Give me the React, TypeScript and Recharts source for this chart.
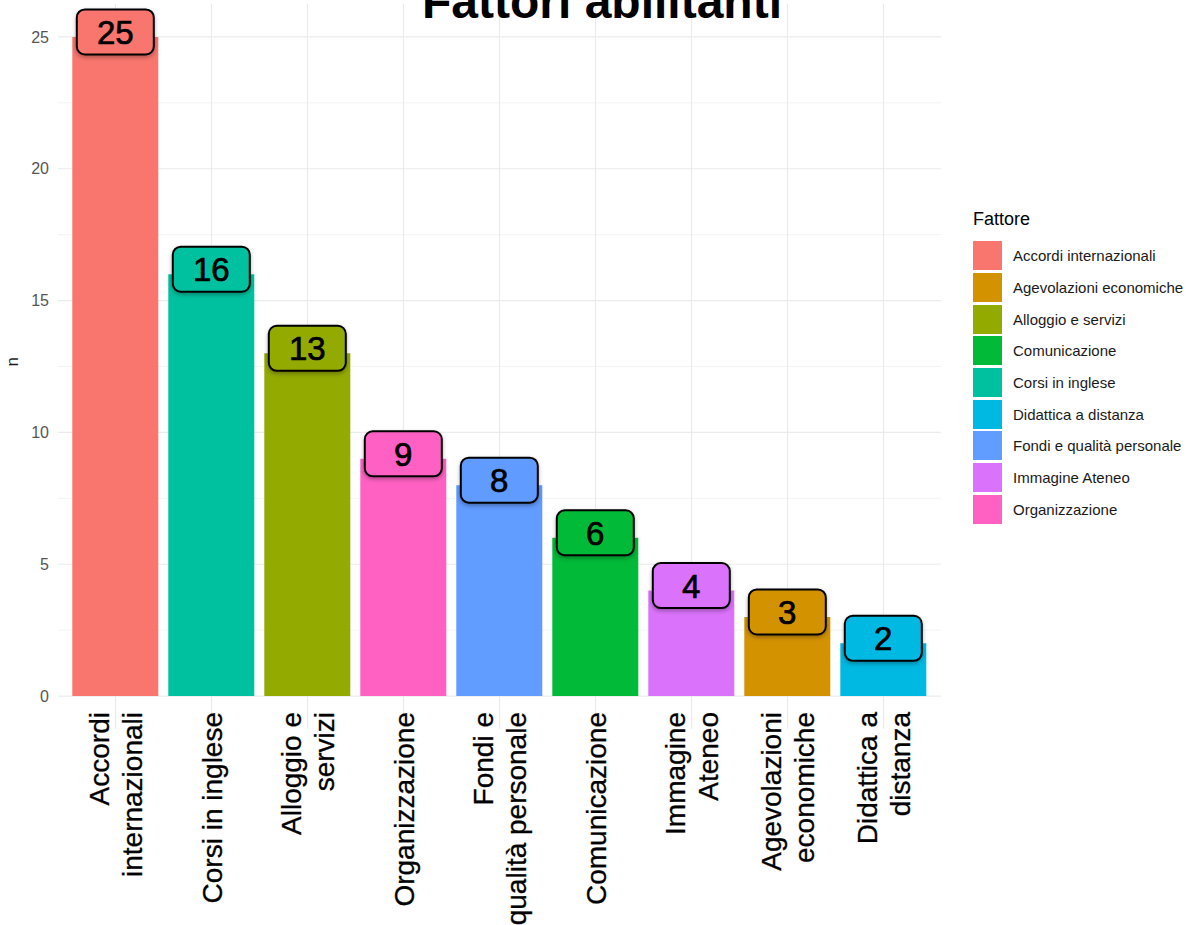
import { BarChart, Bar, XAxis, YAxis, CartesianGrid, Cell, LabelList } from 'recharts';

const CATEGORIES = [
  'Accordi internazionali',
  'Corsi in inglese',
  'Alloggio e servizi',
  'Organizzazione',
  'Fondi e qualità personale',
  'Comunicazione',
  'Immagine Ateneo',
  'Agevolazioni economiche',
  'Didattica a distanza',
];
const COUNTS = [25, 16, 13, 9, 8, 6, 4, 3, 2];
const TICK_LINES = [
  ['Accordi', 'internazionali'],
  ['Corsi in inglese'],
  ['Alloggio e', 'servizi'],
  ['Organizzazione'],
  ['Fondi e', 'qualità personale'],
  ['Comunicazione'],
  ['Immagine', 'Ateneo'],
  ['Agevolazioni', 'economiche'],
  ['Didattica a', 'distanza'],
];
// legend order (alphabetical, as in the original) and the hue palette
const FACTORS = [
  'Accordi internazionali',
  'Agevolazioni economiche',
  'Alloggio e servizi',
  'Comunicazione',
  'Corsi in inglese',
  'Didattica a distanza',
  'Fondi e qualità personale',
  'Immagine Ateneo',
  'Organizzazione',
];
const FACTOR_COLORS = ['#F8766D', '#D39200', '#93AA00', '#00BA38', '#00C19F', '#00B9E3', '#619CFF', '#DB72FB', '#FF61C3'];
const Y_TICKS = [0, 5, 10, 15, 20, 25];
const Y_MINOR = [2.5, 7.5, 12.5, 17.5, 22.5];

const FONT = '"Liberation Sans", Arial, sans-serif';

const colorOf = (name: string) => FACTOR_COLORS[FACTORS.indexOf(name)];

const data = CATEGORIES.map((name, i) => ({ name, n: COUNTS[i] }));

function XTick({ x, y, payload, index }: any) {
  const lines = TICK_LINES[index] ?? [payload.value];
  const k = lines.length;
  return (
    <g>
      {lines.map((line: string, i: number) => {
        const bx = x + 10 + (i - (k - 1) / 2) * 33;
        const by = y - 17;
        return (
          <text
            key={i}
            x={bx}
            y={by}
            transform={`rotate(-90 ${bx} ${by})`}
            textAnchor="end"
            fontSize={28}
            fontFamily={FONT}
            fill="#000"
            stroke="#000"
            strokeWidth={0.3}
          >
            {line}
          </text>
        );
      })}
    </g>
  );
}

function ValueLabel({ x, y, width, value, index }: any) {
  const cx = x + width / 2;
  const cy = y - 5;
  const w = 77;
  const h = 45;
  const fid = `shadow-${index}`;
  return (
    <g>
      <defs>
        <filter id={fid} x="-20%" y="-20%" width="140%" height="160%">
          <feDropShadow dx="0" dy="2" stdDeviation="2" floodColor="#000" floodOpacity="0.3" />
        </filter>
      </defs>
      <rect
        x={cx - w / 2}
        y={cy - h / 2}
        width={w}
        height={h}
        rx={8}
        ry={8}
        fill={colorOf(CATEGORIES[index])}
        stroke="#000"
        strokeWidth={2}
        filter={`url(#${fid})`}
      />
      <text
        x={cx}
        y={cy + 12}
        textAnchor="middle"
        fontSize={33}
        fontFamily={FONT}
        fill="#000"
        stroke="#000"
        strokeWidth={0.7}
      >
        {value}
      </text>
    </g>
  );
}

function LegendBox() {
  return (
    <div style={{ position: 'absolute', left: 973, top: 208, fontFamily: FONT }}>
      <div style={{ fontSize: 18, color: '#000', marginBottom: 10, lineHeight: '22px' }}>Fattore</div>
      {FACTORS.map((f, i) => (
        <div key={f} style={{ display: 'flex', alignItems: 'center', height: 31.7 }}>
          <div style={{ width: 29, height: 29, background: FACTOR_COLORS[i] }} />
          <span style={{ marginLeft: 11, fontSize: 15, color: '#1a1a1a' }}>{f}</span>
        </div>
      ))}
    </div>
  );
}

export default function App() {
  return (
    <div
      style={{
        position: 'absolute',
        left: 0,
        top: 0,
        width: 1193,
        height: 925,
        background: '#fff',
        overflow: 'hidden',
      }}
    >
      <BarChart
        width={1193}
        height={925}
        data={data}
        margin={{ top: 4, right: 252, bottom: 0, left: 0 }}
        barCategoryGap="5%"
      >
        <CartesianGrid
          yAxisId="n"
          horizontalValues={Y_MINOR}
          vertical={false}
          stroke="#F3F3F3"
          strokeWidth={1}
        />
        <CartesianGrid
          yAxisId="n"
          horizontalValues={Y_TICKS}
          verticalValues={CATEGORIES}
          stroke="#EBEBEB"
          strokeWidth={1.2}
        />
        <XAxis
          dataKey="name"
          interval={0}
          height={196}
          padding={{ left: 9.5, right: 9.5 }}
          axisLine={false}
          tickLine={false}
          tickSize={0}
          tickMargin={0}
          tick={<XTick />}
        />
        <YAxis
          yAxisId="n"
          width={58}
          domain={[-1.25, 26.25]}
          ticks={Y_TICKS}
          allowDataOverflow
          axisLine={false}
          tickLine={false}
          tickSize={0}
          tickMargin={9}
          tick={{ fontSize: 16, fill: '#555', fontFamily: FONT }}
          label={{
            value: 'n',
            angle: -90,
            position: 'insideLeft',
            offset: 12,
            style: { fontSize: 17, fill: '#1a1a1a', fontFamily: FONT },
          }}
        />
        <Bar yAxisId="n" dataKey="n" isAnimationActive={false}>
          {data.map((d) => (
            <Cell key={d.name} fill={colorOf(d.name)} />
          ))}
          <LabelList dataKey="n" content={<ValueLabel />} />
        </Bar>
      </BarChart>
      <LegendBox />
      <div
        style={{
          position: 'absolute',
          left: 0,
          top: -22,
          width: 1193,
          paddingLeft: 11,
          boxSizing: 'border-box',
          textAlign: 'center',
          fontFamily: FONT,
          fontSize: 48,
          fontWeight: 'bold',
          lineHeight: '48px',
          color: '#000',
        }}
      >
        Fattori abilitanti
      </div>
    </div>
  );
}
